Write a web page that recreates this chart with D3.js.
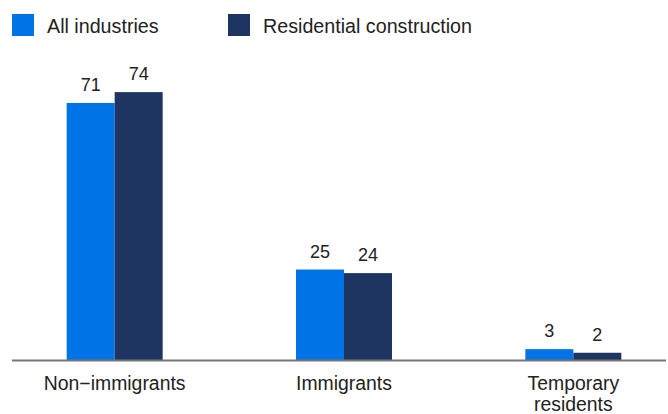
<!DOCTYPE html>
<html>
<head>
<meta charset="utf-8">
<script src="https://cdn.jsdelivr.net/npm/d3@7"></script>
<style>
  body { margin: 0; background: #fff; }
  text { font-family: "Liberation Sans", Arial, Helvetica, sans-serif; fill: #222; }
</style>
</head>
<body>
<svg id="chart" width="668" height="414"></svg>
<script>
// dati
var categorie = ["Non\u2212immigrants", "Immigrants", "Temporary residents"];
var serie = ["All industries", "Residential construction"];
var valoriTutte = [71, 25, 3];
var valoriResid = [74, 24, 2];
var colori = ["#0073E6", "#1E3461"];

var svg = d3.select("#chart");
var baseY = 360;

// scale
var x = d3.scaleBand()
    .domain(categorie)
    .range([0, 688]);

var xs = d3.scaleBand()
    .domain(serie)
    .range([x.bandwidth() / 2 - 48, x.bandwidth() / 2 + 48]);

var y = d3.scaleLinear()
    .domain([0, 80])
    .range([baseY, baseY - 80 * 3.62]);

var colore = d3.scaleOrdinal().domain(serie).range(colori);

// legenda
var legPos = [12, 228];
var leg = svg.selectAll(".leg")
    .data(serie)
    .enter().append("g")
    .attr("class", "leg")
    .attr("transform", (d, i) => "translate(" + legPos[i] + ",14)");
leg.append("rect")
    .attr("width", 22).attr("height", 22)
    .attr("fill", d => colore(d));
leg.append("text")
    .attr("x", 35).attr("y", 19)
    .style("font-size", "19.7px")
    .text(d => d);

// barre
var righe = categorie.map((c, i) => ({
    cat: c,
    valori: [
        { s: serie[0], v: valoriTutte[i] },
        { s: serie[1], v: valoriResid[i] }
    ]
}));

var gruppi = svg.selectAll(".gruppo")
    .data(righe)
    .enter().append("g")
    .attr("class", "gruppo")
    .attr("transform", d => "translate(" + x(d.cat) + ",0)");

gruppi.selectAll("rect")
    .data(d => d.valori)
    .enter().append("rect")
    .attr("x", d => xs(d.s))
    .attr("y", d => y(d.v))
    .attr("width", xs.bandwidth())
    .attr("height", d => baseY - y(d.v))
    .attr("fill", d => colore(d.s));

gruppi.selectAll(".val")
    .data(d => d.valori)
    .enter().append("text")
    .attr("class", "val")
    .attr("x", d => xs(d.s) + xs.bandwidth() / 2)
    .attr("y", d => y(d.v) - 12)
    .attr("text-anchor", "middle")
    .style("font-size", "18px")
    .text(d => d.v);

// asse x
svg.append("line")
    .attr("x1", 12).attr("x2", 666)
    .attr("y1", baseY + 0.5).attr("y2", baseY + 0.5)
    .attr("stroke", "#777")
    .attr("stroke-width", 2);

var etichette = {
    "Non\u2212immigrants": ["Non\u2212immigrants"],
    "Immigrants": ["Immigrants"],
    "Temporary residents": ["Temporary", "residents"]
};

svg.selectAll(".cat")
    .data(categorie)
    .enter().append("text")
    .attr("class", "cat")
    .attr("x", d => x(d) + x.bandwidth() / 2)
    .attr("y", 390)
    .attr("text-anchor", "middle")
    .style("font-size", "19.4px")
    .each(function (d) {
        var t = d3.select(this);
        etichette[d].forEach((riga, i) => {
            t.append("tspan")
                .attr("x", x(d) + x.bandwidth() / 2)
                .attr("dy", i === 0 ? 0 : 21)
                .text(riga);
        });
    });
</script>
</body>
</html>
